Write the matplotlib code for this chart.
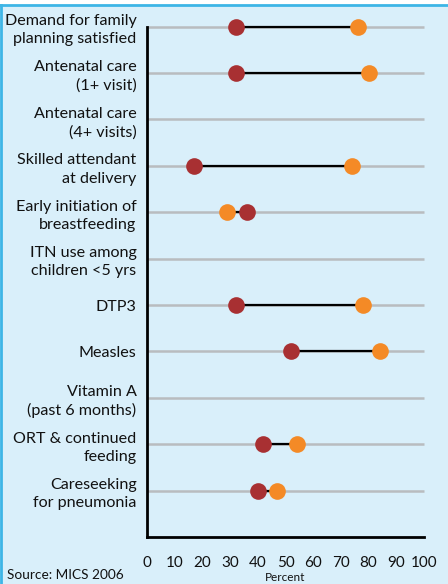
import matplotlib
matplotlib.use("Agg")
import matplotlib.pyplot as plt
from matplotlib.lines import Line2D

categories = [
    "Demand for family\nplanning satisfied",
    "Antenatal care\n(1+ visit)",
    "Antenatal care\n(4+ visits)",
    "Skilled attendant\nat delivery",
    "Early initiation of\nbreastfeeding",
    "ITN use among\nchildren <5 yrs",
    "DTP3",
    "Measles",
    "Vitamin A\n(past 6 months)",
    "ORT & continued\nfeeding",
    "Careseeking\nfor pneumonia",
]
# None = no data shown
poorest = [32, 32, None, 17, 36, None, 32, 52, None, 42, 40]
richest = [76, 80, None, 74, 29, None, 78, 84, None, 54, 47]
xticks = [0, 10, 20, 30, 40, 50, 60, 70, 80, 90, 100]

BG = "#d9effa"
BORDER = "#3db5e6"
RED = "#a83032"
ORANGE = "#f48a26"
GRID = "#b9bcbf"
TXT = "#111111"

plt.rcParams["font.family"] = ["Lato", "DejaVu Sans"]

fig = plt.figure(figsize=(4.48, 5.84), dpi=100, facecolor=BG)
W, H = 448, 584
ax = fig.add_axes([147 / W, (H - 537) / H, (424 - 147) / W, (537 - 26.7) / H])
ax.set_facecolor(BG)

n = len(categories)
ypos = [n - i for i in range(n)]

ax.hlines(ypos, 0, 100, color=GRID, lw=1.8, zorder=1, clip_on=False)
for y, p, r in zip(ypos, poorest, richest):
    if p is None:
        continue
    ax.plot([p, r], [y, y], color="black", lw=1.6, zorder=2, clip_on=False)
    ax.plot(r, y, "o", color=ORANGE, ms=12, mec="none", zorder=3, clip_on=False)
    ax.plot(p, y, "o", color=RED, ms=12, mec="none", zorder=3, clip_on=False)

ax.set_xlim(0, 100)
ax.set_ylim(0, n)
ax.set_xticks(xticks)
ax.set_yticks(ypos)
ax.set_yticklabels(categories, fontsize=11.6, linespacing=1.38, color=TXT)
ax.tick_params(axis="both", length=0)
ax.tick_params(axis="y", pad=7.5)
ax.tick_params(axis="x", pad=14, labelsize=11, labelcolor=TXT)
ax.set_xlabel("Percent", fontsize=8.5, labelpad=1, color=TXT)

for s in ["top", "right"]:
    ax.spines[s].set_visible(False)
for s in ["left", "bottom"]:
    ax.spines[s].set_linewidth(2)
    ax.spines[s].set_color("black")

fig.text(7 / W, 1 - 575 / H, "Source: MICS 2006", fontsize=9.8, va="center",
         color=TXT)

# blue frame lines at top and left
fig.add_artist(Line2D([0, 1], [1 - 5 / H, 1 - 5 / H], color=BORDER, lw=2,
                      transform=fig.transFigure))
fig.add_artist(Line2D([1.2 / W, 1.2 / W], [0, 1 - 5 / H], color=BORDER, lw=2,
                      transform=fig.transFigure))
fig.patches.append(plt.Rectangle((0, 1 - 4 / H), 1, 4 / H, color="white",
                                 transform=fig.transFigure, zorder=0))

fig.savefig("out.png", dpi=100, facecolor=BG)
